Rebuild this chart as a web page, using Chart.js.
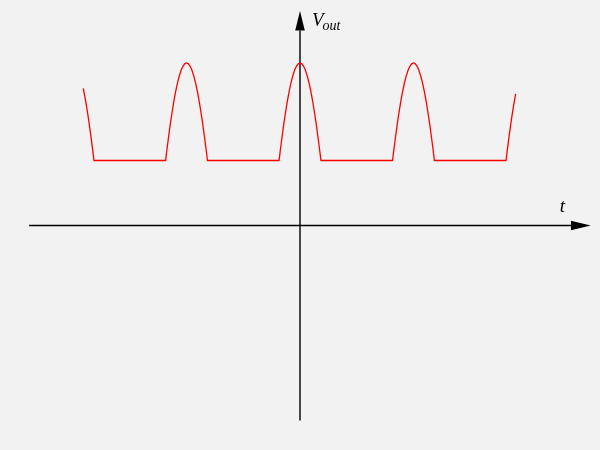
<!DOCTYPE html>
<html><head><meta charset="utf-8">
<script src="https://cdn.jsdelivr.net/npm/chart.js@4"></script>
<style>html,body{margin:0;padding:0;background:#f2f2f2;} #wrap{width:600px;height:450px;}</style>
</head><body><div id="wrap"><canvas id="c" width="600" height="450"></canvas></div>
<script>
// time (rad) and clipped output voltage (normalised to peak)
const timeValues = [
  -12, -11.9, -11.8, -11.7, -11.6, -11.5, -11.407,
  -7.442, -7.383, -7.283, -7.183, -7.083, -6.983, -6.883, -6.783, -6.683, -6.583, -6.483, -6.383, -6.283,
  -6.183, -6.083, -5.983, -5.883, -5.783, -5.683, -5.583, -5.483, -5.383, -5.283, -5.183, -5.124,
  -1.159, -1.1, -1.0, -0.9, -0.8, -0.7, -0.6, -0.5, -0.4, -0.3, -0.2, -0.1, 0,
  0.1, 0.2, 0.3, 0.4, 0.5, 0.6, 0.7, 0.8, 0.9, 1.0, 1.1, 1.159,
  5.124, 5.183, 5.283, 5.383, 5.483, 5.583, 5.683, 5.783, 5.883, 5.983, 6.083, 6.183, 6.283,
  6.383, 6.483, 6.583, 6.683, 6.783, 6.883, 6.983, 7.083, 7.183, 7.283, 7.383, 7.442,
  11.407, 11.5, 11.6, 11.7, 11.8, 11.94
];
const voutValues = [
  0.844, 0.786, 0.721, 0.648, 0.569, 0.484, 0.4,
  0.4, 0.454, 0.540, 0.622, 0.697, 0.765, 0.825, 0.878, 0.921, 0.955, 0.980, 0.995, 1,
  0.995, 0.980, 0.955, 0.921, 0.878, 0.825, 0.765, 0.697, 0.622, 0.540, 0.454, 0.4,
  0.4, 0.454, 0.540, 0.622, 0.697, 0.765, 0.825, 0.878, 0.921, 0.955, 0.980, 0.995, 1,
  0.995, 0.980, 0.955, 0.921, 0.878, 0.825, 0.765, 0.697, 0.622, 0.540, 0.454, 0.4,
  0.4, 0.454, 0.540, 0.622, 0.697, 0.765, 0.825, 0.878, 0.921, 0.955, 0.980, 0.995, 1,
  0.995, 0.980, 0.955, 0.921, 0.878, 0.825, 0.765, 0.697, 0.622, 0.540, 0.454, 0.4,
  0.4, 0.484, 0.569, 0.648, 0.721, 0.81
];
const xAxisSpan = [-15, 15];
const yAxisSpan = [-1.2, 1.2];
const xArrowTip = 16.1;
const yArrowTip = 1.32;
const xLabel = 't';
const yLabelMain = 'V';
const yLabelSub = 'out';

const curve = timeValues.map((t, i) => ({x: t, y: voutValues[i]}));
const xAxisLine = xAxisSpan.map(v => ({x: v, y: 0}));
const yAxisLine = yAxisSpan.map(v => ({x: 0, y: v}));

const bgPlugin = {
  id: 'bg',
  beforeDraw(chart) {
    const c = chart.ctx;
    c.save(); c.fillStyle = '#f2f2f2'; c.fillRect(0, 0, chart.width, chart.height); c.restore();
  }
};

const arrowPlugin = {
  id: 'arrows',
  afterDatasetsDraw(chart) {
    const c = chart.ctx, xs = chart.scales.x, ys = chart.scales.y;
    const x0 = xs.getPixelForValue(0), y0 = ys.getPixelForValue(0);
    const hw = 4.8;
    c.save();
    c.fillStyle = '#000';
    const xb = xs.getPixelForValue(xAxisSpan[1]), xt = xs.getPixelForValue(xArrowTip);
    c.beginPath(); c.moveTo(xb, y0 - hw); c.lineTo(xt, y0); c.lineTo(xb, y0 + hw); c.closePath(); c.fill();
    const yb = ys.getPixelForValue(yAxisSpan[1]), yt = ys.getPixelForValue(yArrowTip);
    c.beginPath(); c.moveTo(x0 - hw, yb); c.lineTo(x0, yt); c.lineTo(x0 + hw, yb); c.closePath(); c.fill();
    c.textBaseline = 'alphabetic';
    c.textAlign = 'left';
    c.font = 'italic 19px "Liberation Serif"';
    c.fillText(yLabelMain, x0 + 12, yt + 15);
    const w = c.measureText(yLabelMain).width;
    c.font = 'italic 14px "Liberation Serif"';
    c.fillText(yLabelSub, x0 + 12 + w - 1, yt + 19);
    c.font = 'italic 19px "Liberation Serif"';
    c.fillText(xLabel, xt - 31, y0 - 13.5);
    c.restore();
  }
};

new Chart(document.getElementById('c'), {
  type: 'line',
  data: {
    datasets: [
      {data: curve, borderColor: '#ff0000', borderWidth: 1.3, pointRadius: 0, tension: 0, fill: false},
      {data: xAxisLine, borderColor: '#000000', borderWidth: 1.4, pointRadius: 0, fill: false},
      {data: yAxisLine, borderColor: '#000000', borderWidth: 1.4, pointRadius: 0, fill: false}
    ]
  },
  options: {
    responsive: false,
    animation: false,
    devicePixelRatio: 1,
    layout: {padding: 0},
    plugins: {legend: {display: false}, tooltip: {enabled: false}},
    scales: {
      x: {type: 'linear', min: -16.61, max: 16.61, display: false},
      y: {type: 'linear', min: -1.3815, max: 1.3877, display: false}
    }
  },
  plugins: [bgPlugin, arrowPlugin]
});
</script>
</body></html>
